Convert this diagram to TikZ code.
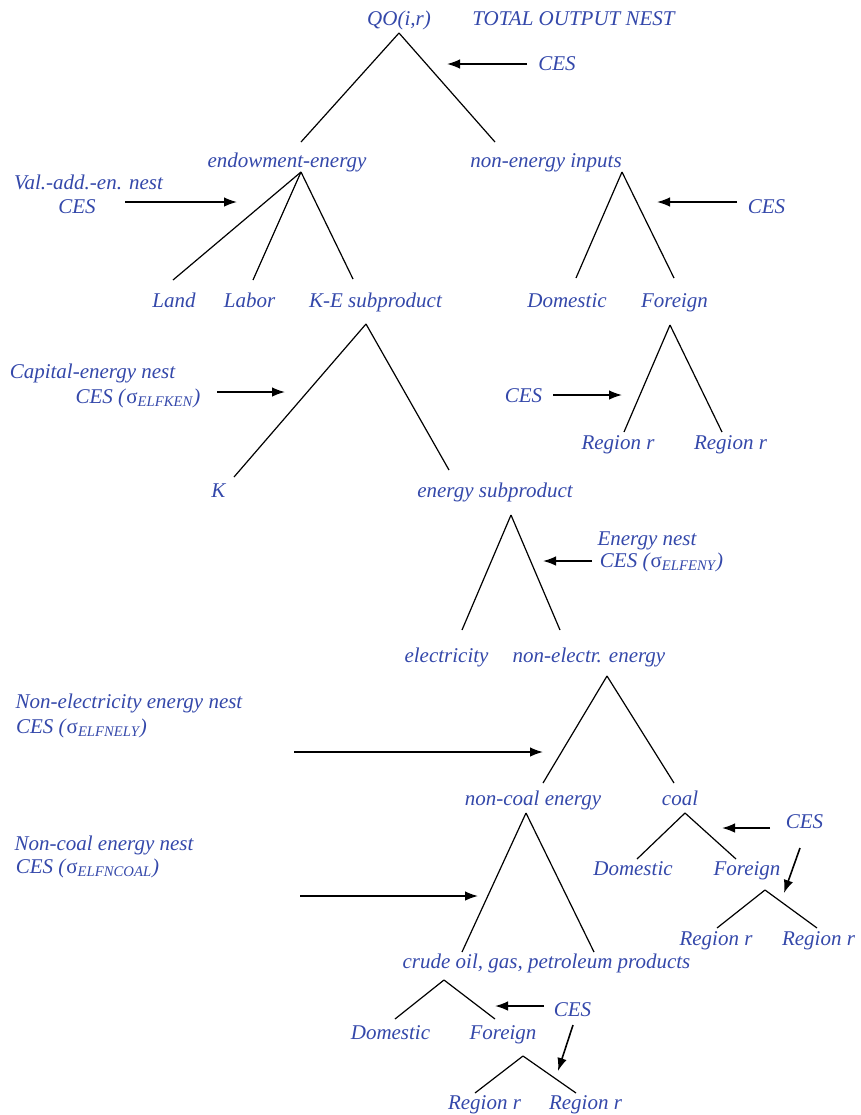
\documentclass[tikz,border=0pt]{standalone}
\usepackage{fontspec}
\setmainfont{Liberation Serif}
\usetikzlibrary{arrows.meta}
\definecolor{nestblue}{RGB}{52,72,170}

\tikzset{
  lbl/.style={text=nestblue, font=\fontsize{10.5}{12.5}\selectfont\itshape, inner sep=0pt, anchor=base},
  leg/.style={line width=0.6pt},
  push/.style={line width=0.8pt, -{Latex[length=6.5pt,width=4.8pt]}}
}
\newcommand{\sig}[1]{(\textup{σ}\textsubscript{#1})}

\begin{document}
\begin{tikzpicture}[x=0.5pt, y=-0.5pt]
    \useasboundingbox (0,0) rectangle (861,1115);
    % labels of the nests (centre x, baseline y)
    \node[lbl] (qo)      at (399,25)   {QO(i,r)};
    \node[lbl] (total)   at (573.5,25) {TOTAL OUTPUT NEST};
    \node[lbl] (ces1)    at (557,70)   {CES};
    \node[lbl] (val1)    at (88.5,189) {Val.-add.-en. nest};
    \node[lbl] (val2)    at (77,213)   {CES};
    \node[lbl] (ee)      at (287,167)  {endowment-energy};
    \node[lbl] (nei)     at (546,167)  {non-energy inputs};
    \node[lbl] (ces2)    at (766.5,213) {CES};
    \node[lbl] (land)    at (174,307)  {Land};
    \node[lbl] (labor)   at (249.5,307) {Labor};
    \node[lbl] (kesub)   at (375.5,307) {K-E subproduct};
    \node[lbl] (dom1)    at (567,307)  {Domestic};
    \node[lbl] (for1)    at (674.5,307) {Foreign};
    \node[lbl] (cap1)    at (92.5,378) {Capital-energy nest};
    \node[lbl] (cap2)    at (138,403)  {CES \sig{ELFKEN}};
    \node[lbl] (ces3)    at (523.5,402) {CES};
    \node[lbl] (reg1)    at (618,449)  {Region r};
    \node[lbl] (reg2)    at (730.5,449) {Region r};
    \node[lbl] (k)       at (218.5,497) {K};
    \node[lbl] (esub)    at (495,497)  {energy subproduct};
    \node[lbl] (en1)     at (647,545)  {Energy nest};
    \node[lbl] (en2)     at (661.5,567) {CES \sig{ELFENY}};
    \node[lbl] (elec)    at (446.5,662) {electricity};
    \node[lbl] (nonel)   at (589,662)  {non-electr. energy};
    \node[lbl] (nel1)    at (129,708)  {Non-electricity energy nest};
    \node[lbl] (nel2)    at (81.5,733) {CES \sig{ELFNELY}};
    \node[lbl] (noncoal) at (533,805)  {non-coal energy};
    \node[lbl] (coal)    at (680,805)  {coal};
    \node[lbl] (nc1)     at (104,850)  {Non-coal energy nest};
    \node[lbl] (nc2)     at (87.5,873) {CES \sig{ELFNCOAL}};
    \node[lbl] (ces4)    at (804.5,828) {CES};
    \node[lbl] (dom2)    at (633,875)  {Domestic};
    \node[lbl] (for2)    at (747,875)  {Foreign};
    \node[lbl] (reg3)    at (716,945)  {Region r};
    \node[lbl] (reg4)    at (818.5,945) {Region r};
    \node[lbl] (crude)   at (546.5,968) {crude oil, gas, petroleum products};
    \node[lbl] (ces5)    at (572.5,1016) {CES};
    \node[lbl] (dom3)    at (390.5,1039) {Domestic};
    \node[lbl] (for3)    at (503,1039) {Foreign};
    \node[lbl] (reg5)    at (484.5,1109) {Region r};
    \node[lbl] (reg6)    at (585.5,1109) {Region r};

    % tops (v) of the forks and the ends (t) of their legs
    \foreach \n/\x/\y in {qo-v/399/33, ee-t/301/142, nei-t/495/142,
        ee-v/301/172, land-t/173/280, labor-t/253/280, kesub-t/353/279,
        nei-v/622/172, dom1-t/576/278, for1-t/674/278,
        for1-v/670/325, reg1-t/624/432, reg2-t/722/432,
        kesub-v/366/324, k-t/234/477, esub-t/449/470,
        esub-v/511/515, elec-t/462/630, nonel-t/560/630,
        nonel-v/607/676, noncoal-t/543/783, coal-t/674/783,
        coal-v/685/813, dom2-t/637/859, for2-t/736/859,
        for2-v/765/890, reg3-t/717/928, reg4-t/817/928,
        noncoal-v/526/813, crude-t/462/952, crude-r/594/952,
        crude-v/444/980, dom3-t/395/1019, for3-t/495/1019,
        for3-v/523/1056, reg5-t/475/1093, reg6-t/576/1093}
        \coordinate (\n) at (\x,\y);
    \foreach \a/\b in {qo-v/ee-t, qo-v/nei-t,
        ee-v/land-t, ee-v/labor-t, ee-v/kesub-t,
        nei-v/dom1-t, nei-v/for1-t, for1-v/reg1-t, for1-v/reg2-t,
        kesub-v/k-t, kesub-v/esub-t, esub-v/elec-t, esub-v/nonel-t,
        nonel-v/noncoal-t, nonel-v/coal-t, coal-v/dom2-t, coal-v/for2-t,
        for2-v/reg3-t, for2-v/reg4-t, noncoal-v/crude-t, noncoal-v/crude-r,
        crude-v/dom3-t, crude-v/for3-t, for3-v/reg5-t, for3-v/reg6-t}
        \draw[leg] (\a) -- (\b);

    % elasticity arrows
    \foreach \n/\x/\y in {a1s/527/64, a1e/447/64, a2s/125/202, a2e/237/202,
        a3s/737/202, a3e/657/202, a4s/217/392, a4e/285/392,
        a5s/553/395, a5e/622/395, a6s/592/561, a6e/543/561,
        a7s/294/752, a7e/543/752, a8s/300/896, a8e/478/896,
        a9s/770/828, a9e/722/828, a10s/800/848, a10e/784/893,
        a11s/544/1006, a11e/495/1006, a12s/573/1025, a12e/558/1071}
        \coordinate (\n) at (\x,\y);
    \foreach \i in {1,...,12}
        \draw[push] (a\i s) -- (a\i e);
\end{tikzpicture}
\end{document}
